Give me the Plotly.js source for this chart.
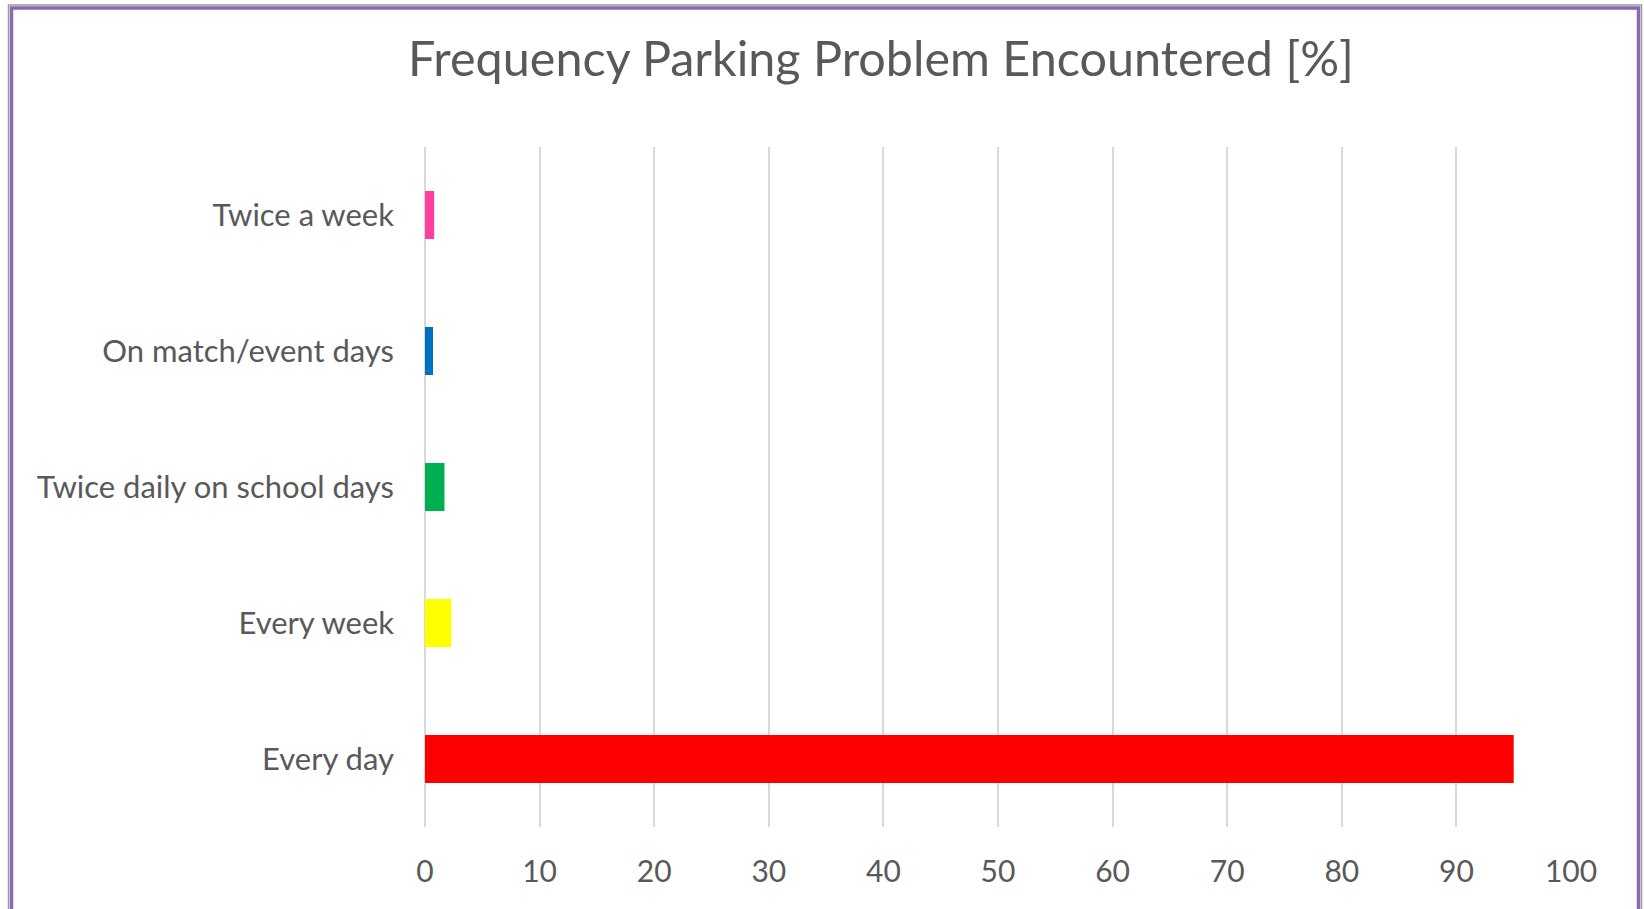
<!DOCTYPE html>
<html>
<head>
<meta charset="utf-8">
<script src="https://cdn.plot.ly/plotly-3.0.1.min.js"></script>
<style>
  html, body { margin: 0; padding: 0; background: #ffffff; }
  #chart { width: 1644px; height: 909px; }
</style>
</head>
<body>
<div id="chart"></div>
<script>
// ---- data ----
const categories = ["Every day", "Every week", "Twice daily on school days", "On match/event days", "Twice a week"];
const percentages = [95, 2.3, 1.7, 0.7, 0.8];
const barColors = ["#ff0000", "#ffff00", "#00b050", "#0070c0", "#ff3fa0"];
const xTickValues = [0, 10, 20, 30, 40, 50, 60, 70, 80, 90, 100];
const chartTitle = "Frequency Parking Problem Encountered [%]";

// ---- layout helpers (pixel -> paper) ----
const W = 1644, H = 909;
const L = 425, R = 73, T = 147, B = 82;
const pw = W - L - R, ph = H - T - B;
const px = v => (v - L) / pw;
const py = v => (H - B - v) / ph;

const trace = {
  type: "bar",
  orientation: "h",
  y: categories,
  x: percentages,
  marker: { color: barColors, line: { width: 0 } },
  hoverinfo: "x+y"
};

const layout = {
  width: W,
  height: H,
  margin: { l: L, r: R, t: T, b: B, pad: 0 },
  paper_bgcolor: "#ffffff",
  plot_bgcolor: "#ffffff",
  font: { family: "Lato, 'Open Sans', sans-serif", color: "#595959" },
  showlegend: false,
  bargap: 0.647,
  title: {
    text: chartTitle,
    font: { family: "Lato, 'Open Sans', sans-serif", size: 48.5, color: "#595959" },
    xref: "paper",
    x: px(881),
    xanchor: "center",
    yref: "container",
    y: 1 - 59 / H,
    yanchor: "middle"
  },
  xaxis: {
    range: [0, 100],
    tickvals: xTickValues,
    ticktext: xTickValues.map(String),
    showgrid: true,
    gridcolor: "#d9d9d9",
    gridwidth: 2,
    zeroline: true,
    zerolinecolor: "#d9d9d9",
    zerolinewidth: 2,
    showline: false,
    ticks: "",
    ticklabelstandoff: 24,
    tickfont: { size: 30, color: "#595959" },
    fixedrange: true
  },
  yaxis: {
    type: "category",
    categoryorder: "array",
    categoryarray: categories,
    showgrid: false,
    zeroline: false,
    showline: false,
    ticks: "",
    ticklabelstandoff: 30,
    tickfont: { size: 31, color: "#595959" },
    fixedrange: true
  },
  shapes: [
    {
      type: "rect", xref: "paper", yref: "paper", layer: "above",
      x0: px(8.5), x1: px(1641.5), y0: py(930), y1: py(5),
      line: { color: "#9a9a9a", width: 1.5 }, fillcolor: "rgba(0,0,0,0)"
    },
    {
      type: "rect", xref: "paper", yref: "paper", layer: "above",
      x0: px(11.5), x1: px(1638.5), y0: py(930), y1: py(8),
      line: { color: "#8a68b4", width: 3.5 }, fillcolor: "rgba(0,0,0,0)"
    }
  ]
};

Plotly.newPlot("chart", [trace], layout, { displayModeBar: false, staticPlot: true });
</script>
</body>
</html>
